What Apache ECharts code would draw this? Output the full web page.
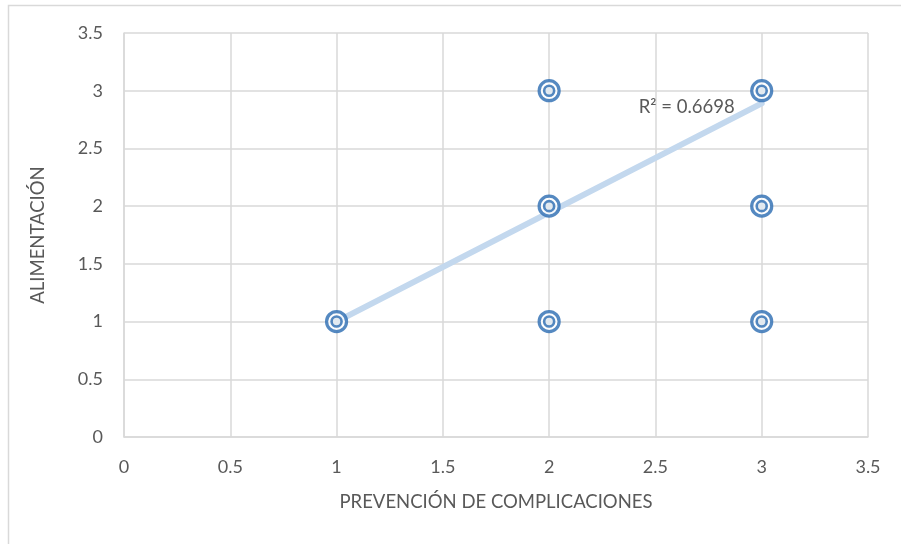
<!DOCTYPE html>
<html><head><meta charset="utf-8">
<script src="https://cdn.jsdelivr.net/npm/echarts@6/dist/echarts.min.js"></script>
<style>html,body{margin:0;padding:0;background:#fff}#c{width:901px;height:544px}</style>
</head><body><div id="c"></div>
<script>
var xValues = [1, 2, 2, 2, 3, 3, 3];
var yValues = [1, 1, 2, 3, 1, 2, 3];
var trendX = [1, 3];
var trendY = [1.0, 2.89];
var rSquaredLabel = 'R² = 0.6698';
var xAxisName = 'PREVENCIÓN DE COMPLICACIONES';
var yAxisName = 'ALIMENTACIÓN';

var pts = xValues.map(function (x, i) { return [x, yValues[i]]; });
var trend = trendX.map(function (x, i) { return [x, trendY[i]]; });
var font = 'Lato, "Open Sans", sans-serif';
var chart = echarts.init(document.getElementById('c'));
chart.setOption({
  animation: false,
  graphic: [{type: 'rect', shape: {x: 8.5, y: 5.5, width: 1000, height: 1000}, style: {fill: 'none', stroke: '#d9d9d9', lineWidth: 1.5}, silent: true}],
  grid: {left: 124, right: 33, top: 33, bottom: 107, containLabel: false},
  xAxis: {
    type: 'value', min: 0, max: 3.5, interval: 0.5,
    name: xAxisName, nameLocation: 'middle', nameGap: 56,
    nameTextStyle: {color: '#595959', fontSize: 18.5, fontFamily: font},
    axisLine: {show: true, lineStyle: {color: '#d9d9d9', width: 1.5}},
    axisTick: {show: false},
    axisLabel: {color: '#595959', fontSize: 18, fontFamily: font, margin: 21},
    splitLine: {show: true, lineStyle: {color: '#d9d9d9', width: 1.5}}
  },
  yAxis: {
    type: 'value', min: 0, max: 3.5, interval: 0.5,
    name: yAxisName, nameLocation: 'middle', nameGap: 76,
    nameTextStyle: {color: '#595959', fontSize: 18.5, fontFamily: font},
    axisLine: {show: true, lineStyle: {color: '#d9d9d9', width: 1.5}},
    axisTick: {show: false},
    axisLabel: {color: '#595959', fontSize: 18, fontFamily: font, margin: 21},
    splitLine: {show: true, lineStyle: {color: '#d9d9d9', width: 1.5}}
  },
  series: [
    {type: 'line', data: trend, symbol: 'none', lineStyle: {color: '#c3d8ee', width: 6, cap: 'round'}, z: 1,
     endLabel: {show: true, formatter: rSquaredLabel, color: '#595959', fontSize: 18.5, fontFamily: font, offset: [-131, 4]}},
    {type: 'scatter', data: pts, symbol: 'circle', symbolSize: 20,
     itemStyle: {color: '#ffffff', borderColor: '#2a6bb2', borderWidth: 3.2}, z: 3},
    {type: 'scatter', data: pts, symbol: 'circle', symbolSize: 10,
     itemStyle: {color: '#dde6ee', borderColor: '#2a6bb2', borderWidth: 2.6}, z: 4}
  ]
});
</script></body></html>
